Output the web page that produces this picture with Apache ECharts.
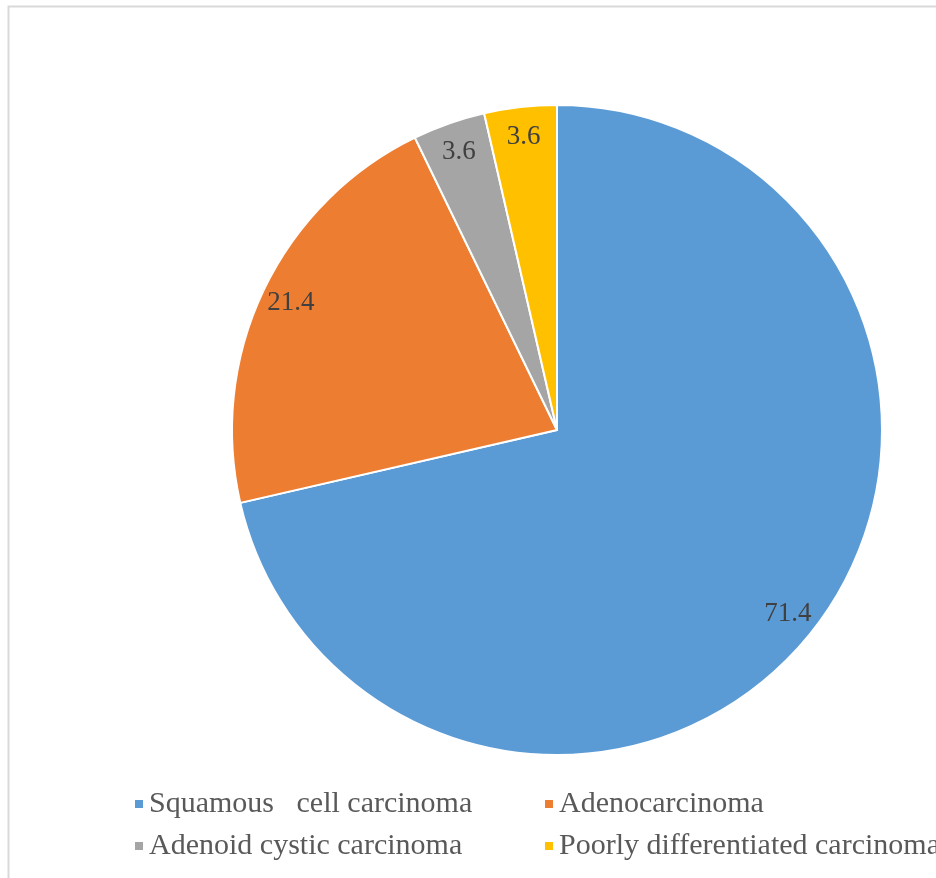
<!DOCTYPE html>
<html>
<head>
<meta charset="utf-8">
<script src="https://cdn.jsdelivr.net/npm/echarts@6/dist/echarts.min.js"></script>
<style>
  html, body { margin: 0; padding: 0; background: #fff; overflow: hidden; }
  #main { width: 936px; height: 878px; }
</style>
</head>
<body>
<div id="main"></div>
<script>
// slice names and percentages, clockwise from 12 o'clock
var names = ['Squamous   cell carcinoma', 'Adenocarcinoma', 'Adenoid cystic carcinoma', 'Poorly differentiated carcinoma'];
var values = [71.4, 21.4, 3.6, 3.6];
var colors = ['#5B9BD5', '#ED7D31', '#A5A5A5', '#FFC000'];

var myChart = echarts.init(document.getElementById('main'));

var data = names.map(function (n, i) {
    return { name: n, value: values[i], itemStyle: { color: colors[i] } };
});

// legend laid out as two columns, each a vertical legend
function legendColumn(left, items) {
    return {
        orient: 'vertical',
        left: left,
        top: 784,
        itemWidth: 10,
        itemHeight: 10,
        itemGap: 12,
        icon: 'rect',
        textStyle: {
            fontFamily: 'Liberation Serif',
            fontSize: 30,
            color: '#595959'
        },
        data: items
    };
}

var option = {
    backgroundColor: '#fff',
    animation: false,
    graphic: [{
        type: 'rect',
        shape: { x: 8.5, y: 6.5, width: 1000, height: 1000 },
        style: { fill: 'none', stroke: '#d9d9d9', lineWidth: 2 },
        z: -1
    }],
    legend: [
        legendColumn(128, [names[0], names[2]]),
        legendColumn(538, [names[1], names[3]])
    ],
    series: [
        {
            // the visible pie
            type: 'pie',
            center: [557, 430],
            radius: [0, 325],
            startAngle: 90,
            clockwise: true,
            label: { show: false },
            labelLine: { show: false },
            itemStyle: { borderColor: '#fff', borderWidth: 2 },
            emphasis: { disabled: true },
            data: data
        },
        {
            // transparent ring carrying the value labels near the rim
            type: 'pie',
            center: [557, 430],
            radius: [272, 312],
            startAngle: 90,
            clockwise: true,
            silent: true,
            itemStyle: { color: 'rgba(0,0,0,0)' },
            label: {
                show: true,
                position: 'inside',
                formatter: function (p) { return p.value.toFixed(1); },
                fontFamily: 'Liberation Serif',
                fontSize: 27,
                color: '#404040'
            },
            labelLine: { show: false },
            emphasis: { disabled: true },
            data: names.map(function (n, i) {
                return { name: n, value: values[i] };
            })
        }
    ]
};

myChart.setOption(option);
</script>
</body>
</html>
